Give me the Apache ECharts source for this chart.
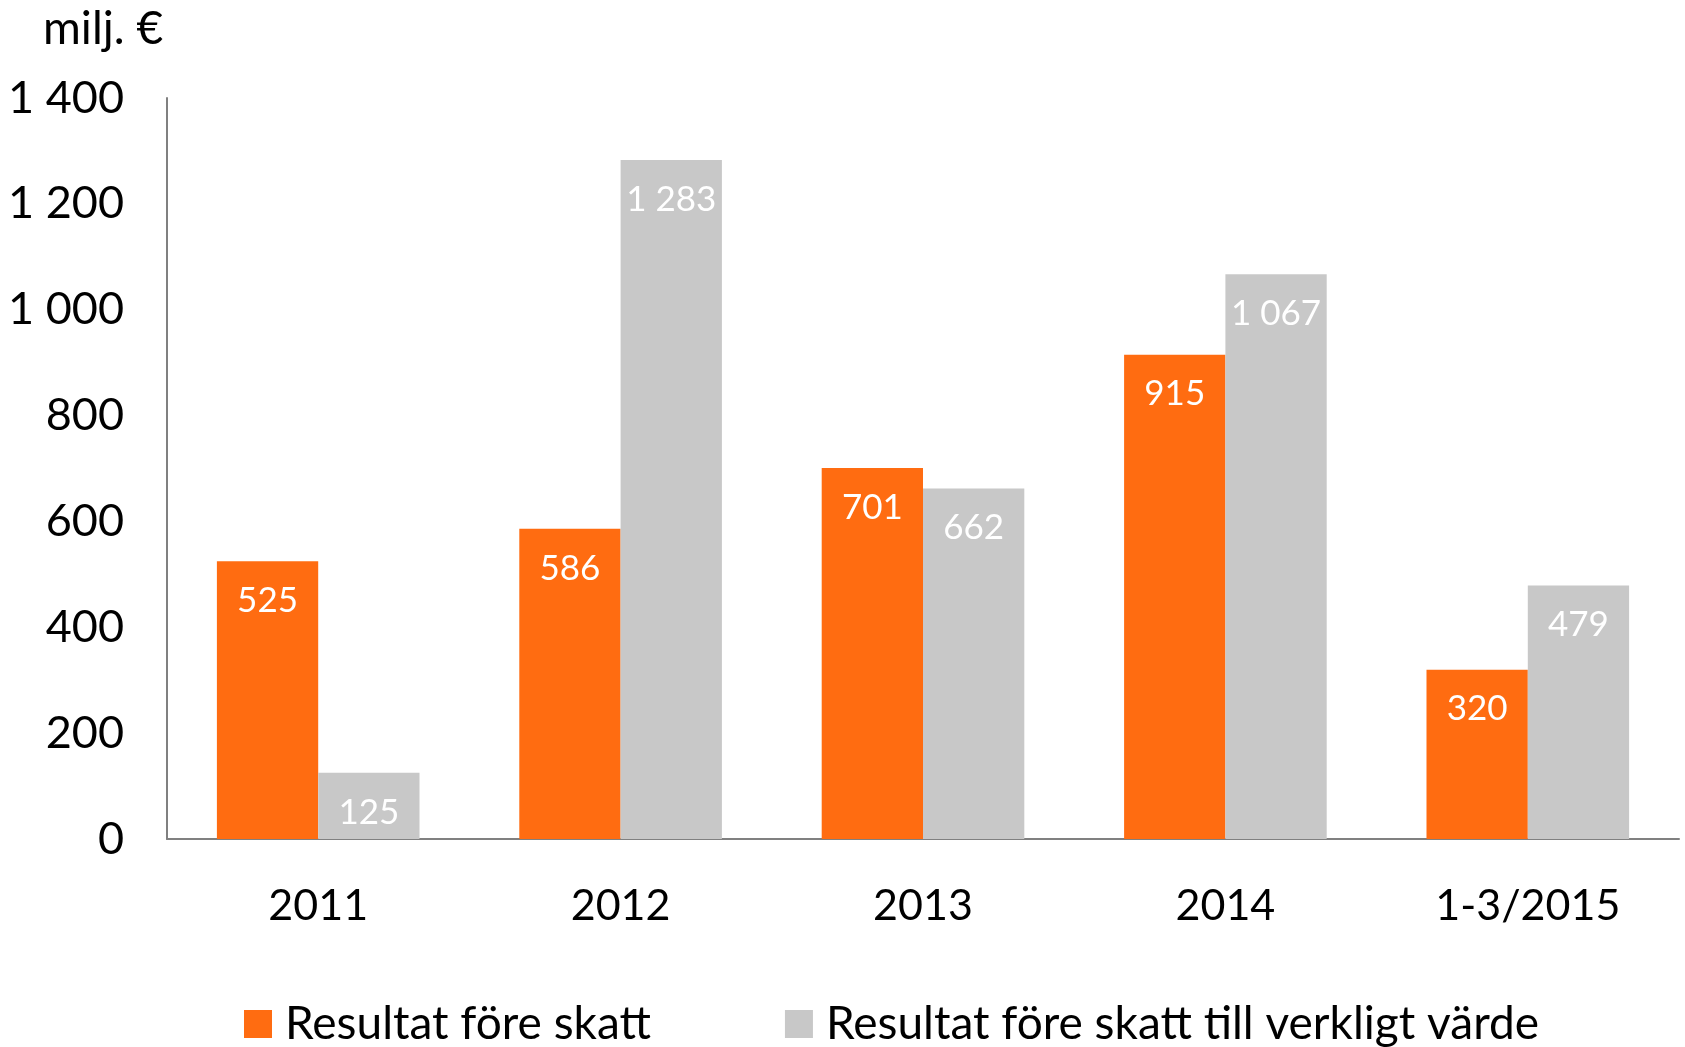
<!DOCTYPE html>
<html><head><meta charset="utf-8">
<script src="https://cdn.jsdelivr.net/npm/echarts@6/dist/echarts.min.js"></script>
<style>html,body{margin:0;padding:0;background:#fff}#c{width:1685px;height:1047px}</style>
</head><body><div id="c"></div>
<script>
var categories = ['2011', '2012', '2013', '2014', '1-3/2015'];
var seriesNames = ['Resultat före skatt', 'Resultat före skatt till verkligt värde'];
var resultBeforeTax = [525, 586, 701, 915, 320];
var resultFairValue = [125, 1283, 662, 1067, 479];
var unitLabel = 'milj. €';

function fmt(v) { return String(v).replace(/\B(?=(\d{3})+(?!\d))/g, ' '); }
var FONT = 'Lato';
var chart = echarts.init(document.getElementById('c'));
var labelCfg = {
  show: true, position: 'insideTop', distance: 22, color: '#fff',
  fontFamily: FONT, fontSize: 35,
  formatter: function (p) { return fmt(p.value); }
};
chart.setOption({
  animation: false,
  textStyle: { fontFamily: FONT },
  grid: { left: 167, right: 6, top: 98, bottom: 208, containLabel: false },
  graphic: [{ type: 'text', left: 43, top: 6, style: { text: unitLabel, font: '46px Lato', fill: '#000' } }],
  legend: {
    top: 996, left: 239, itemWidth: 28, itemHeight: 28, itemGap: 134,
    icon: 'rect',
    textStyle: { fontFamily: FONT, fontSize: 46, color: '#000', padding: [0, 0, 0, 8] },
    data: seriesNames
  },
  xAxis: {
    type: 'category', data: categories,
    axisLine: { lineStyle: { color: '#808080', width: 2 } },
    axisTick: { show: false },
    axisLabel: { color: '#000', fontSize: 43, fontFamily: FONT, margin: 46 }
  },
  yAxis: {
    type: 'value', min: 0, max: 1400, interval: 200,
    axisLine: { show: true, lineStyle: { color: '#808080', width: 2 } },
    axisTick: { show: false },
    splitLine: { show: false },
    axisLabel: { color: '#000', fontSize: 45, fontFamily: FONT, margin: 43, formatter: function (v) { return fmt(v); } }
  },
  series: [
    { name: seriesNames[0], type: 'bar', data: resultBeforeTax, barGap: '0%', barCategoryGap: '33%',
      itemStyle: { color: '#FF6C11' }, label: labelCfg },
    { name: seriesNames[1], type: 'bar', data: resultFairValue,
      itemStyle: { color: '#C8C8C8' }, label: labelCfg }
  ]
});
</script></body></html>
